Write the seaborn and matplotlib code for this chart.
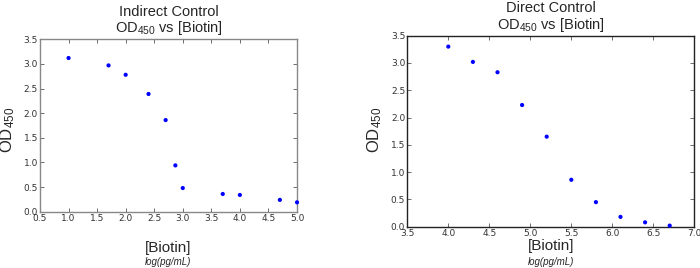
import matplotlib
matplotlib.use("Agg")
import matplotlib.pyplot as plt
import seaborn as sns
import pandas as pd

# Indirect control
indirect_x = [1.0, 1.7, 2.0, 2.4, 2.7, 2.87, 3.0, 3.7, 4.0, 4.7, 5.0]
indirect_y = [3.12, 2.97, 2.78, 2.39, 1.86, 0.94, 0.48, 0.36, 0.34, 0.24, 0.19]
# Direct control
direct_x = [4.0, 4.3, 4.6, 4.9, 5.2, 5.5, 5.8, 6.1, 6.4, 6.7]
direct_y = [3.30, 3.02, 2.83, 2.23, 1.65, 0.86, 0.45, 0.18, 0.08, 0.02]

titles = ["Indirect Control\n$\\mathrm{OD}_{\\mathrm{450}}$ vs [Biotin]",
          "Direct Control\n$\\mathrm{OD}_{\\mathrm{450}}$ vs [Biotin]"]
xticks_l = [0.5, 1.0, 1.5, 2.0, 2.5, 3.0, 3.5, 4.0, 4.5, 5.0]
xticks_r = [3.5, 4.0, 4.5, 5.0, 5.5, 6.0, 6.5, 7.0]
yticks = [0.0, 0.5, 1.0, 1.5, 2.0, 2.5, 3.0, 3.5]

sns.set_style("ticks")
plt.rcParams['font.family'] = ['Liberation Sans', 'DejaVu Sans']
plt.rcParams['mathtext.fontset'] = 'custom'
plt.rcParams['mathtext.rm'] = 'Liberation Sans'
plt.rcParams['mathtext.it'] = 'Liberation Sans:italic'

fig = plt.figure(figsize=(7.0, 2.68), dpi=100)
W, H = 700, 268
ax1 = fig.add_axes([40/W, 1 - 211.7/H, (297-40)/W, (211.7-39.3)/H])
ax2 = fig.add_axes([407.3/W, 1 - 226.7/H, (694.3-407.3)/W, (226.7-35.7)/H])

df1 = pd.DataFrame({"x": indirect_x, "y": indirect_y})
df2 = pd.DataFrame({"x": direct_x, "y": direct_y})

for ax, df, xt, xlim, title, spine_col in [
        (ax1, df1, xticks_l, (0.5, 5.0), titles[0], "#888888"),
        (ax2, df2, xticks_r, (3.5, 7.0), titles[1], "#222222")]:
    sns.scatterplot(data=df, x="x", y="y", ax=ax, color="#0000ff", s=9,
                    edgecolor="none", linewidth=0, clip_on=False, zorder=3)
    ax.set_xlim(*xlim)
    ax.set_ylim(0, 3.5)
    ax.set_xticks(xt)
    ax.set_yticks(yticks)
    ax.set_xticklabels([f"{v:.1f}" for v in xt])
    ax.set_yticklabels([f"{v:.1f}" for v in yticks])
    ax.tick_params(direction="in", length=3, width=0.6, top=True, right=True,
                   labelsize=6.5, labelcolor="#333333", pad=1.5, color="#555555")
    for lab in ax.get_xticklabels() + ax.get_yticklabels():
        lab.set_fontfamily("DejaVu Sans")
    for sp in ax.spines.values():
        sp.set_visible(True)
        sp.set_color(spine_col)
        sp.set_linewidth(1.0)
    ax.set_title(title, fontsize=10.5, linespacing=1.05, pad=5)
    ax.set_ylabel("")
    ax.set_xlabel("")

# y labels
fig.text(8/W, 1 - 130/H, "$\\mathrm{OD}_{\\mathrm{450}}$", rotation=90,
         ha="center", va="center", fontsize=12)
fig.text(375/W, 1 - 130/H, "$\\mathrm{OD}_{\\mathrm{450}}$", rotation=90,
         ha="center", va="center", fontsize=12)

# x labels
fig.text((40+297)/2/W, 1 - 248/H, "[Biotin]", ha="center", va="center", fontsize=11)
fig.text((40+297)/2/W, 1 - 262/H, "log(pg/mL)", ha="center", va="center",
         fontsize=7, style="italic")
fig.text((407.3+694.3)/2/W, 1 - 246/H, "[Biotin]", ha="center", va="center", fontsize=11)
fig.text((407.3+694.3)/2/W, 1 - 262/H, "log(pg/mL)", ha="center", va="center",
         fontsize=7, style="italic")

fig.savefig("out.png", dpi=100)
